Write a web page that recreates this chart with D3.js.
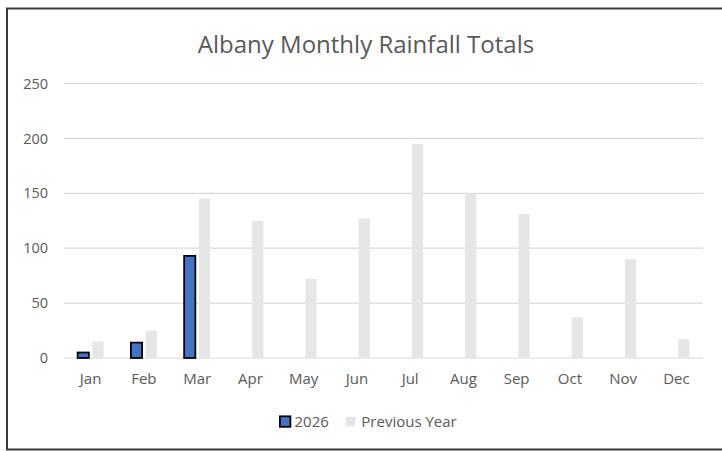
<!DOCTYPE html>
<html>
<head>
<meta charset="utf-8">
<script src="https://cdn.jsdelivr.net/npm/d3@7"></script>
<style>
  body { margin: 0; background: #fff; }
  text { font-family: "Open Sans", sans-serif; fill: #595959; }
</style>
</head>
<body>
<svg id="chart"></svg>
<script>
const months = ['Jan', 'Feb', 'Mar', 'Apr', 'May', 'Jun', 'Jul', 'Aug', 'Sep', 'Oct', 'Nov', 'Dec']
const series = ['2026', 'Previous Year']
const rain2026 = [5, 14, 93, null, null, null, null, null, null, null, null, null]
const rainPrev = [15, 25, 145, 125, 72, 127, 195, 150, 131, 37, 90, 17]
const yTicks = [0, 50, 100, 150, 200, 250]

const W = 722, H = 451
const m = {top: 83.5, left: 64, right: 19, bottom: 93}

const fills = {'2026': '#4472C4', 'Previous Year': '#E7E6E6'}
const strokes = {'2026': '#000', 'Previous Year': 'none'}

let svg = d3.select('#chart').attr('width', W).attr('height', H)

// outer frame
svg.append('rect')
    .attr('x', 7).attr('y', 8.5)
    .attr('width', 800).attr('height', 441)
    .attr('fill', 'none')
    .attr('stroke', '#3a3a3a')
    .attr('stroke-width', 2)

let x = d3.scaleBand().domain(months)
    .range([m.left, W - m.right])
    .paddingInner(0.512).paddingOuter(0.256)
let xs = d3.scaleBand().domain(series)
    .range([0, x.bandwidth()])
    .paddingInner(0.24)
let y = d3.scaleLinear().domain([0, 250]).range([H - m.bottom, m.top])

// gridlines
svg.append('g')
    .selectAll('line')
    .data(yTicks)
    .join('line')
    .attr('x1', m.left).attr('x2', W - m.right)
    .attr('y1', d => y(d)).attr('y2', d => y(d))
    .attr('stroke', '#D9D9D9')
    .attr('stroke-width', 1.2)

// y labels
let yAxis = d3.axisLeft(y).tickValues(yTicks).tickSize(0).tickPadding(16)
svg.append('g')
    .attr('transform', `translate(${m.left},0)`)
    .call(yAxis)
    .call(g => g.select('.domain').remove())
    .call(g => g.selectAll('text').attr('font-size', 14.5).attr('fill', '#595959')
        .attr('font-family', '"Open Sans", sans-serif'))

// x labels
let xAxis = d3.axisBottom(x).tickSize(0).tickPadding(15)
svg.append('g')
    .attr('transform', `translate(0,${y(0)})`)
    .call(xAxis)
    .call(g => g.select('.domain').remove())
    .call(g => g.selectAll('text').attr('font-size', 15).attr('fill', '#595959')
        .attr('font-family', '"Open Sans", sans-serif'))

let rows = months.map((mo, i) => ({month: mo, '2026': rain2026[i], 'Previous Year': rainPrev[i]}))

// bars
series.forEach(s => {
    svg.append('g')
        .selectAll('rect')
        .data(rows.filter(d => d[s] != null))
        .join('rect')
        .attr('x', d => x(d.month) + xs(s))
        .attr('y', d => y(d[s]))
        .attr('width', xs.bandwidth())
        .attr('height', d => y(0) - y(d[s]))
        .attr('fill', fills[s])
        .attr('stroke', strokes[s])
        .attr('stroke-width', 1.75)
})

// title
svg.append('text')
    .attr('x', 366).attr('y', 52.5)
    .attr('text-anchor', 'middle')
    .attr('font-size', 24)
    .text('Albany Monthly Rainfall Totals')

// legend
let leg = svg.append('g').attr('transform', 'translate(279, 421.5)')
let lx = 0
series.forEach((s, i) => {
    let g = leg.append('g').attr('transform', `translate(${lx},0)`)
    if (strokes[s] != 'none') {
        g.append('rect').attr('x', 0.9).attr('y', -5.2)
            .attr('width', 10.5).attr('height', 10.5)
            .attr('fill', fills[s]).attr('stroke', strokes[s]).attr('stroke-width', 1.75)
    } else {
        g.append('rect').attr('x', 0).attr('y', -4.7)
            .attr('width', 9.5).attr('height', 9.5)
            .attr('fill', fills[s])
    }
    let t = g.append('text')
        .attr('x', 15.5).attr('y', 5.3)
        .attr('font-size', 15)
        .text(s)
    lx += 15.5 + t.node().getComputedTextLength() + 17
})
</script>
</body>
</html>
